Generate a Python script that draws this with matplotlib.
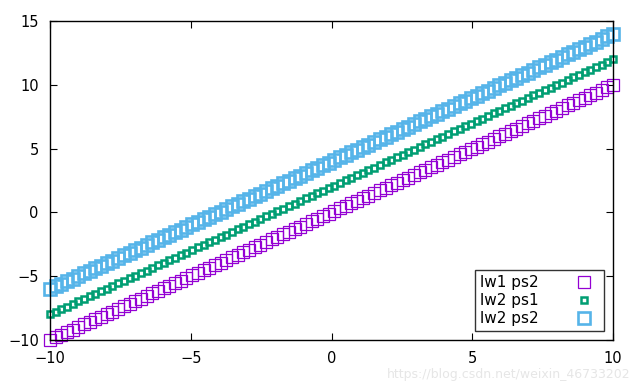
import matplotlib.pyplot as plt
import numpy as np

# gnuplot-style sampling: 100 samples over [-10, 10]
x = np.linspace(-10, 10, 100)
offsets = [0, 2, 4]
labels = ['lw1 ps2', 'lw2 ps1', 'lw2 ps2']
colors = ['#9400d3', '#009e73', '#56b4e9']
edge_w = [0.9, 1.8, 1.9]
sizes = [9.3, 5.0, 9.3]

xticks = [-10, -5, 0, 5, 10]
yticks = [-10, -5, 0, 5, 10, 15]


def main():
    fig = plt.figure(figsize=(6.4, 3.84), dpi=100)
    ax = fig.add_axes([0.078, 0.115, 0.880, 0.830])

    for off, lab, c, lw, ms in zip(offsets, labels, colors, edge_w, sizes):
        ax.plot(x, x + off, linestyle='none', marker='s', markersize=ms,
                markerfacecolor='none', markeredgecolor=c,
                markeredgewidth=lw, label=lab, clip_on=False)

    ax.set_xlim(-10, 10)
    ax.set_ylim(-10, 15)
    ax.set_xticks(xticks)
    ax.set_yticks(yticks)
    ax.tick_params(direction='in', top=True, right=True, length=5,
                   labelsize=10.5, pad=8)
    for s in ax.spines.values():
        s.set_linewidth(1)

    leg = ax.legend(loc='lower right', markerfirst=False, fontsize=11,
                    frameon=True, fancybox=False, edgecolor='black',
                    borderpad=0.3, labelspacing=0.2, handletextpad=2.0,
                    borderaxespad=0.6)
    leg.get_frame().set_linewidth(1)

    fig.text(0.985, 0.008, 'https://blog.csdn.net/weixin_46733202',
             color='#e6e6e6', fontsize=9, ha='right', va='bottom')

    fig.savefig('out.png')
    plt.close(fig)


if __name__ == '__main__':
    main()
